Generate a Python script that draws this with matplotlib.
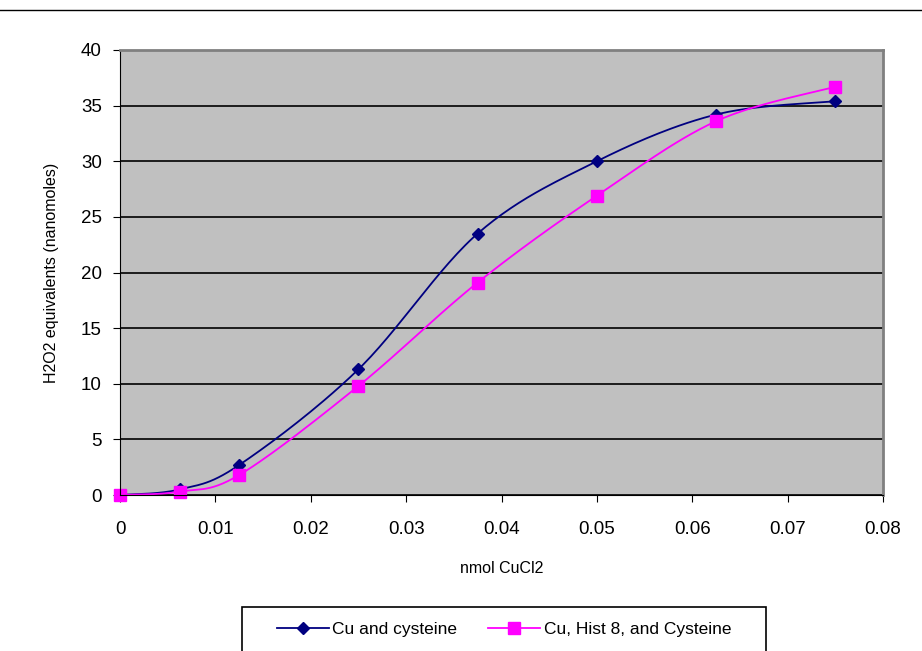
import numpy as np
import matplotlib.pyplot as plt
from matplotlib.lines import Line2D
from matplotlib.patches import Rectangle

plt.rcParams['font.family'] = ['Liberation Sans', 'DejaVu Sans']

# data
cucl2 = [0, 0.00625, 0.0125, 0.025, 0.0375, 0.05, 0.0625, 0.075]
cu_cys = [0.0, 0.5, 2.7, 11.3, 23.5, 30.0, 34.2, 35.4]
cu_hist_cys = [0.0, 0.3, 1.8, 9.8, 19.1, 26.9, 33.6, 36.7]

label_a = 'Cu and cysteine'
label_b = 'Cu, Hist 8, and Cysteine'


def smooth(x, y, n=30):
    # catmull-rom like excel's smoothed line
    x = np.asarray(x, float)
    y = np.asarray(y, float)
    px = np.concatenate([[x[0]], x, [x[-1]]])
    py = np.concatenate([[y[0]], y, [y[-1]]])
    xs, ys = [], []
    t = np.linspace(0, 1, n)
    for i in range(1, len(px) - 2):
        p0, p1, p2, p3 = px[i - 1], px[i], px[i + 1], px[i + 2]
        q0, q1, q2, q3 = py[i - 1], py[i], py[i + 1], py[i + 2]
        for a, b, c, d, out in ((p0, p1, p2, p3, xs), (q0, q1, q2, q3, ys)):
            out.extend(0.5 * (2 * b + (-a + c) * t + (2 * a - 5 * b + 4 * c - d) * t ** 2
                              + (-a + 3 * b - 3 * c + d) * t ** 3))
    return xs, ys


fig = plt.figure(figsize=(9.22, 6.51), dpi=100)
ax = fig.add_axes([120 / 922, 1 - 495 / 651, (883 - 120) / 922, (495 - 50) / 651])
ax.set_facecolor('#C0C0C0')

blue = '#000080'
pink = '#FF00FF'

sx, sy = smooth(cucl2, cu_cys)
ax.plot(sx, sy, color=blue, lw=1.3)
ax.plot(cucl2, cu_cys, ls='none', marker='D', ms=6, color=blue, clip_on=False)
sx, sy = smooth(cucl2, cu_hist_cys)
ax.plot(sx, sy, color=pink, lw=1.3)
ax.plot(cucl2, cu_hist_cys, ls='none', marker='s', ms=9, color=pink, clip_on=False)

ax.set_xlim(0, 0.08)
ax.set_ylim(0, 40)
ax.set_xticks(np.arange(0, 0.081, 0.01))
ax.set_xticklabels(['0', '0.01', '0.02', '0.03', '0.04', '0.05', '0.06', '0.07', '0.08'])
ax.set_yticks(range(0, 41, 5))
ax.yaxis.grid(True, color='black', lw=1.2)
ax.set_axisbelow(True)
ax.tick_params(direction='out', length=5, labelsize=13.5, pad=14)
ax.tick_params(axis='y', pad=8)
ax.spines['top'].set_color('#808080')
ax.spines['right'].set_color('#808080')
ax.spines['top'].set_linewidth(2)
ax.spines['right'].set_linewidth(2)

ax.set_xlabel('nmol CuCl2', fontsize=11.5, labelpad=16)
ax.set_ylabel('H2O2 equivalents (nanomoles)', fontsize=11.5, labelpad=16)

# top rule
fig.add_artist(Line2D([0, 1], [1 - 10 / 651, 1 - 10 / 651], color='black', lw=1))

# legend box
fig.add_artist(Rectangle((242 / 922, -0.05), (766 - 242) / 922, 0.05 + (651 - 607) / 651,
                         transform=fig.transFigure, fill=False, edgecolor='black', lw=1.2))
handles = [Line2D([], [], color=blue, marker='D', ms=6, lw=1.3),
           Line2D([], [], color=pink, marker='s', ms=9, lw=1.3)]
fig.legend(handles, [label_a, label_b], ncol=2, frameon=False, fontsize=12.5,
           loc='center', bbox_to_anchor=(504 / 922, 1 - 629 / 651),
           handlelength=3.0, columnspacing=1.8, handletextpad=0.2)

fig.savefig('out.png', dpi=100)
